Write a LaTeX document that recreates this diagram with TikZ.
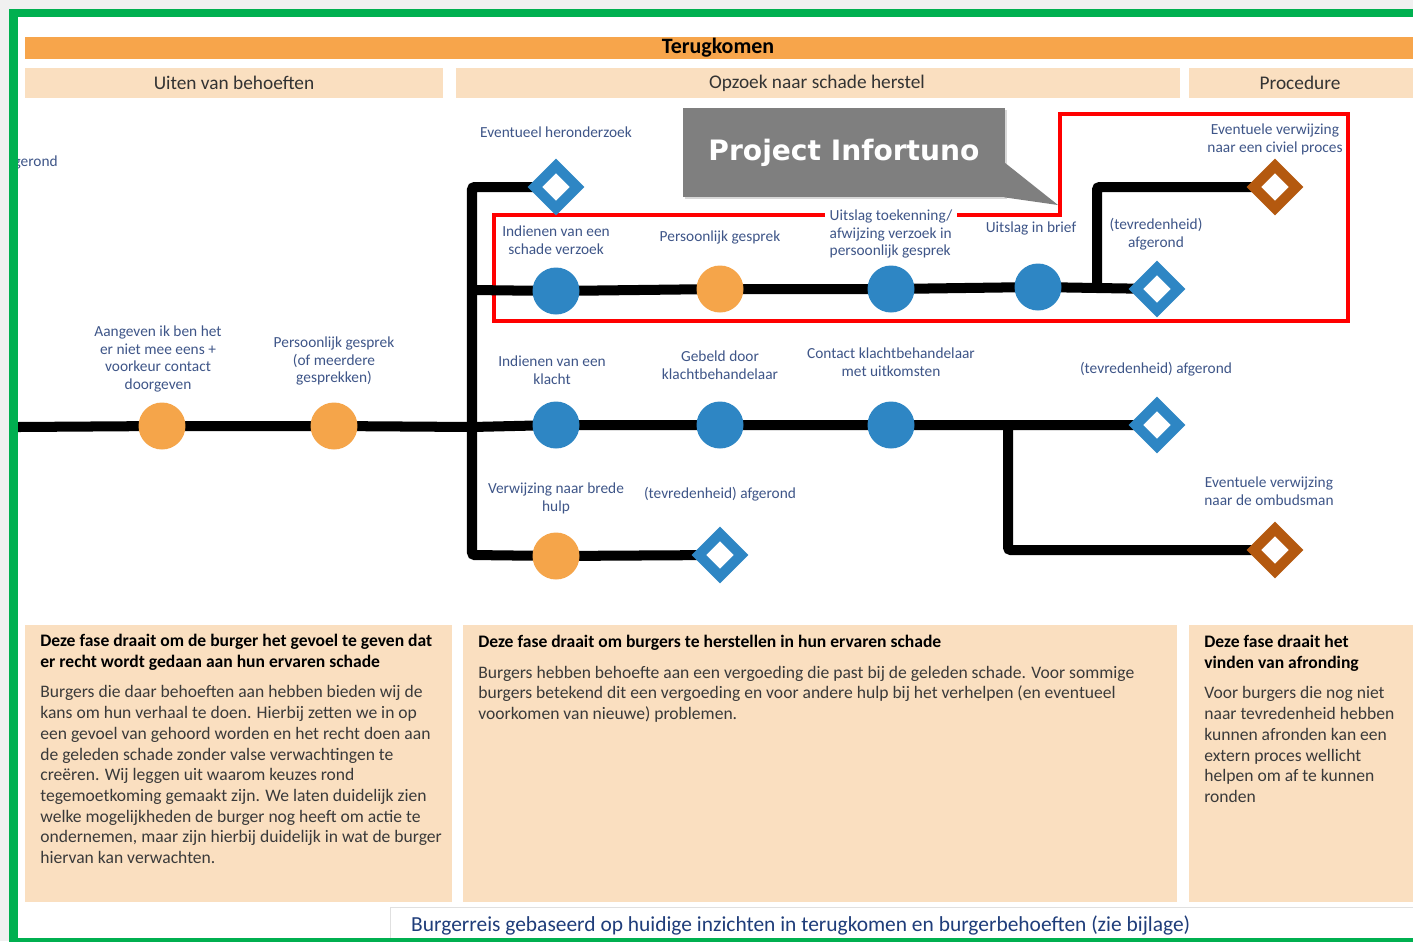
\documentclass[tikz,border=0pt]{standalone}
\usepackage{fontspec}
\setmainfont{Carlito}
\newfontfamily\calloutfont{DejaVu Sans}
\usetikzlibrary{shapes.geometric,backgrounds,shadows,calc}

\definecolor{frameg}{HTML}{00B050}
\definecolor{barorange}{HTML}{F7A54B}
\definecolor{peach}{HTML}{FADFC0}
\definecolor{dotblue}{HTML}{2E86C4}
\definecolor{dotorange}{HTML}{F5A54A}
\definecolor{diabrown}{HTML}{B4590F}
\definecolor{lblblue}{HTML}{3E5588}
\definecolor{capblue}{HTML}{1F3D7A}
\definecolor{bodygray}{HTML}{3A3A3A}
\definecolor{calloutgray}{HTML}{7F7F7F}

\tikzset{
  track/.style={line width=5.7pt, black, rounded corners=1.5pt},
  bluedot/.style={circle, fill=dotblue, minimum size=0.94cm, inner sep=0pt},
  orangedot/.style={circle, fill=dotorange, minimum size=0.94cm, inner sep=0pt},
  goal/.style={diamond, draw=#1, fill=white, line width=5.8pt, minimum size=0.93cm, inner sep=0pt},
  lbl/.style={text=lblblue, font=\fontsize{8.75}{10.2}\selectfont, align=center, inner sep=0pt},
  band/.style={fill=peach},
  bandtext/.style={font=\fontsize{11}{13}\selectfont, text=black!80},
  boxtext/.style={anchor=north west, inner sep=0pt, align=left, text=bodygray, font=\fontsize{10}{11.8}\selectfont},
}

\begin{document}
\begin{tikzpicture}[x=0.02cm, y=-0.02cm]
\useasboundingbox (0,0) rectangle (1413,941);
% page
\begin{scope}[on background layer]
  \fill[black!6] (0,0) rectangle (1413,941);
  \fill[white] (13,13) rectangle (1413,939);
\end{scope}

% phase bands
\fill[barorange] (25,37) rectangle (1413,59);
\node[font=\fontsize{12.5}{14}\selectfont\bfseries] (title) at (718,48) {Terugkomen};
\fill[band] (25,68) rectangle (443,98);
\node[bandtext] (ph1) at (234,83) {Uiten van behoeften};
\fill[band] (456,68) rectangle (1180,98);
\node[bandtext] (ph2) at (817,83) {Opzoek naar schade herstel};
\fill[band] (1189,68) rectangle (1413,98);
\node[bandtext] (ph3) at (1300,83) {Procedure};

% stations
\coordinate (start) at (18,427);
\coordinate (split) at (472,427);
\coordinate (upper) at (472,187);
\coordinate (mid) at (472,290);
\coordinate (lower) at (472,555);
\node[orangedot] (a1) at (162,426) {};
\node[orangedot] (a2) at (334,426) {};
\node[goal=dotblue] (d0) at (556,187) {};
\node[bluedot] (s1) at (556,291) {};
\node[orangedot] (s2) at (720,289) {};
\node[bluedot] (s3) at (891,289) {};
\node[bluedot] (s4) at (1038,287) {};
\node[goal=dotblue] (d1) at (1157,289) {};
\coordinate (fork) at (1097,289);
\coordinate (forkup) at (1097,187);
\node[goal=diabrown] (b1) at (1275,187) {};
\node[bluedot] (k1) at (556,425) {};
\node[bluedot] (k2) at (720,425) {};
\node[bluedot] (k3) at (891,425) {};
\node[goal=dotblue] (d2) at (1157,425) {};
\coordinate (drop) at (1008,425);
\coordinate (dropdown) at (1008,550);
\node[goal=diabrown] (b2) at (1275,550) {};
\node[orangedot] (h1) at (556,556) {};
\node[goal=dotblue] (d3) at (720,555) {};

% lines and red frame
\begin{scope}[on background layer]
  \draw[red, line width=2.3pt] (1060,215) -- (494,215) -- (494,321) -- (1348,321) -- (1348,114) -- (1060,114) -- cycle;
  \draw[track] (start) -- (a1.center) -- (a2.center) -- (split) -- (k1.center) -- (k2.center) -- (k3.center) -- (d2.center);
  \draw[track] (d3.center) -- (h1.center) -- (lower) -- (upper) -- (d0.center);
  \draw[track] (mid) -- (s1.center) -- (s2.center) -- (s3.center) -- (s4.center) -- (d1.center);
  \draw[track] (fork) -- (forkup) -- (b1.center);
  \draw[track] (drop) -- (dropdown) -- (b2.center);
\end{scope}

% labels
\begin{scope}
  \clip (13,140) rectangle (120,185);
  \node[lbl, anchor=east] (lold) at (58,162) {afgerond};
\end{scope}
\node[lbl] (ld0) at (556,132) {Eventueel heronderzoek};
\node[lbl] (ls1) at (556,240) {Indienen van een\\schade verzoek};
\node[lbl] (ls2) at (720,237) {Persoonlijk gesprek};
\node[lbl, align=left, fill=white, inner xsep=2.5pt] (ls3) at (891,234) {Uitslag toekenning/\\afwijzing verzoek in\\persoonlijk gesprek};
\node[lbl] (ls4) at (1031,228) {Uitslag in brief};
\node[lbl] (ld1) at (1156,234) {(tevredenheid)\\afgerond};
\node[lbl] (lb1) at (1275,139) {Eventuele verwijzing\\naar een civiel proces};
\node[lbl] (la1) at (158,359) {Aangeven ik ben het\\er niet mee eens +\\voorkeur contact\\doorgeven};
\node[lbl] (la2) at (334,361) {Persoonlijk gesprek\\(of meerdere\\gesprekken)};
\node[lbl] (lk1) at (552,370) {Indienen van een\\klacht};
\node[lbl] (lk2) at (720,365) {Gebeld door\\klachtbehandelaar};
\node[lbl] (lk3) at (891,362) {Contact klachtbehandelaar\\met uitkomsten};
\node[lbl] (ld2) at (1156,369) {(tevredenheid) afgerond};
\node[lbl] (lh1) at (556,498) {Verwijzing naar brede\\hulp};
\node[lbl] (ld3) at (720,494) {(tevredenheid) afgerond};
\node[lbl] (lb2) at (1269,491) {Eventuele verwijzing\\naar de ombudsman};

% callout
\node[fill=calloutgray, minimum width=6.44cm, minimum height=1.78cm, text=white,
  font=\calloutfont\bfseries\fontsize{16}{19}\selectfont,
  drop shadow={opacity=0.3, shadow xshift=1.2pt, shadow yshift=-1.2pt}] (proj) at (844,152.5) {Project Infortuno};
\coordinate (tip) at (1058,205);
\fill[calloutgray] ($(proj.south east)+(-1,-35)$) -- (tip) -- ($(proj.south east)+(-1,0)$) -- cycle;

% description boxes
\fill[band] (25,625) rectangle (452,902);
\node[boxtext] (txt1) at (40,634) {\textcolor{black}{\textbf{Deze fase draait om de burger het gevoel te geven dat}}\\
  \textcolor{black}{\textbf{er recht wordt gedaan aan hun ervaren schade}}\\[5.5pt]
  Burgers die daar behoeften aan hebben bieden wij de\\
  kans om hun verhaal te doen. Hierbij zetten we in op\\
  een gevoel van gehoord worden en het recht doen aan\\
  de geleden schade zonder valse verwachtingen te\\
  creëren. Wij leggen uit waarom keuzes rond\\
  tegemoetkoming gemaakt zijn. We laten duidelijk zien\\
  welke mogelijkheden de burger nog heeft om actie te\\
  ondernemen, maar zijn hierbij duidelijk in wat de burger\\
  hiervan kan verwachten.};
\fill[band] (463,625) rectangle (1177,902);
\node[boxtext] (txt2) at (478,635) {\textcolor{black}{\textbf{Deze fase draait om burgers te herstellen in hun ervaren schade}}\\[5.5pt]
  Burgers hebben behoefte aan een vergoeding die past bij de geleden schade. Voor sommige\\
  burgers betekend dit een vergoeding en voor andere hulp bij het verhelpen (en eventueel\\
  voorkomen van nieuwe) problemen.};
\fill[band] (1189,625) rectangle (1413,902);
\node[boxtext] (txt3) at (1204,635) {\textcolor{black}{\textbf{Deze fase draait het}}\\
  \textcolor{black}{\textbf{vinden van afronding}}\\[5.5pt]
  Voor burgers die nog niet\\
  naar tevredenheid hebben\\
  kunnen afronden kan een\\
  extern proces wellicht\\
  helpen om af te kunnen\\
  ronden};

% caption
\filldraw[fill=white, draw=black!12] (390,907) rectangle (1420,945);
\node[text=capblue, font=\fontsize{12.2}{14}\selectfont, anchor=west] (caption) at (405,925) {Burgerreis gebaseerd op huidige inzichten in terugkomen en burgerbehoeften (zie bijlage)};

% green frame
\draw[frameg, line width=5.1pt] (13.5,945) -- (13.5,13) -- (1420,13);
\draw[frameg, line width=2.5pt] (13,940) -- (1420,940);
\end{tikzpicture}
\end{document}
